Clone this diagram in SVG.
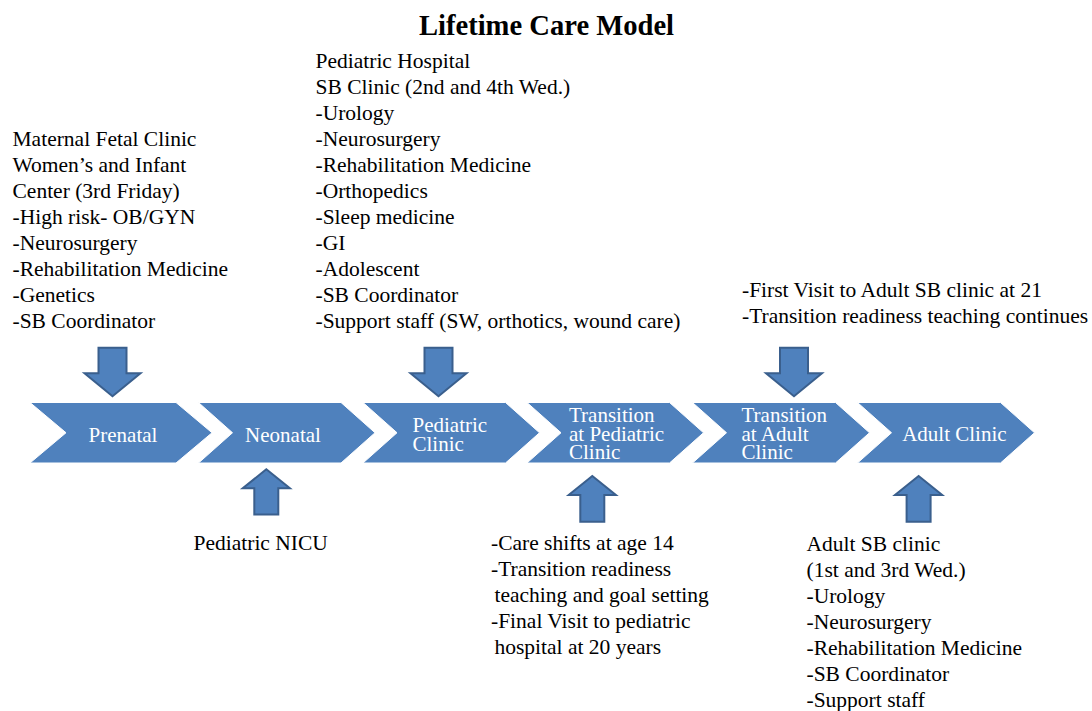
<svg xmlns="http://www.w3.org/2000/svg" width="1092" height="711" viewBox="0 0 1092 711">
  <style>
    .bg { fill: #ffffff; }
    text { font-family: "Liberation Serif", "DejaVu Serif", serif; }
    .title { font-size: 28.6px; font-weight: bold; fill: #000000; }
    .list { font-size: 21.5px; fill: #000000; }
    .stage { fill: #4F81BD; stroke: #ffffff; stroke-width: 1; }
    .stage-label { font-size: 21px; fill: #ffffff; }
    .arrow { fill: #4F81BD; stroke: #3A5F8D; stroke-width: 2; stroke-linejoin: miter; }
  </style>

  <rect class="bg" x="0" y="0" width="1092" height="711"/>

  <text class="title" x="546.5" y="34.5" text-anchor="middle">Lifetime Care Model</text>

  <!-- Timeline stages -->
  <g id="stage-prenatal">
    <polygon class="stage" points="30,402.5 176,402.5 212,432.75 176,463 30,463 66,432.75"/>
    <text class="stage-label" x="123" y="441.7" text-anchor="middle">Prenatal</text>
  </g>
  <g id="stage-neonatal">
    <polygon class="stage" points="198.5,402.5 341,402.5 375,432.75 341,463 198.5,463 232.5,432.75"/>
    <text class="stage-label" x="283" y="441.7" text-anchor="middle">Neonatal</text>
  </g>
  <g id="stage-pediatric-clinic">
    <polygon class="stage" points="363,402.5 505.5,402.5 539.5,432.75 505.5,463 363,463 397,432.75"/>
    <text class="stage-label" x="412.5" y="431.5">Pediatric</text>
    <text class="stage-label" x="412.5" y="450.5">Clinic</text>
  </g>
  <g id="stage-transition-pediatric">
    <polygon class="stage" points="527,402.5 669.5,402.5 703.5,432.75 669.5,463 527,463 561,432.75"/>
    <text class="stage-label" x="569" y="421.7">Transition</text>
    <text class="stage-label" x="569" y="440.5">at Pediatric</text>
    <text class="stage-label" x="569" y="459.3">Clinic</text>
  </g>
  <g id="stage-transition-adult">
    <polygon class="stage" points="692.5,402.5 835.5,402.5 869.5,432.75 835.5,463 692.5,463 726.5,432.75"/>
    <text class="stage-label" x="741.5" y="421.7">Transition</text>
    <text class="stage-label" x="741.5" y="440.5">at Adult</text>
    <text class="stage-label" x="741.5" y="459.3">Clinic</text>
  </g>
  <g id="stage-adult-clinic">
    <polygon class="stage" points="857.5,402.5 1000.5,402.5 1034.5,432.75 1000.5,463 857.5,463 891.5,432.75"/>
    <text class="stage-label" x="954.4" y="440.7" text-anchor="middle">Adult Clinic</text>
  </g>

  <!-- Block arrows linking the notes to the stages -->
  <g id="connectors">
    <path class="arrow" d="M98.5,347.7 H126.5 V373.3 H140.5 L112.5,396.3 L84.5,373.3 H98.5 Z"/>
    <path class="arrow" d="M424.5,347.7 H452.5 V373.3 H466.5 L438.5,396.3 L410.5,373.3 H424.5 Z"/>
    <path class="arrow" d="M780,347.7 H808 V373.3 H822 L794,396.3 L766,373.3 H780 Z"/>
    <path class="arrow" d="M254.3,514.5 V488.3 H242.7 L266.3,469.3 L289.9,488.3 H278.3 V514.5 Z"/>
    <path class="arrow" d="M580.3,521.7 V495 H568.7 L592.3,476 L615.9,495 H604.3 V521.7 Z"/>
    <path class="arrow" d="M906.6,521.7 V495 H895 L918.6,476 L942.2,495 H930.6 V521.7 Z"/>
  </g>

  <!-- Notes -->
  <g id="note-maternal-fetal">
    <text class="list" x="12.5" y="145.5">Maternal Fetal Clinic</text>
    <text class="list" x="12.5" y="171.5">Women’s and Infant</text>
    <text class="list" x="12.5" y="197.5">Center (3rd Friday)</text>
    <text class="list" x="12.5" y="223.5">-High risk- OB/GYN</text>
    <text class="list" x="12.5" y="249.5">-Neurosurgery</text>
    <text class="list" x="12.5" y="275.5">-Rehabilitation Medicine</text>
    <text class="list" x="12.5" y="301.5">-Genetics</text>
    <text class="list" x="12.5" y="327.5">-SB Coordinator</text>
  </g>

  <g id="note-pediatric-hospital">
    <text class="list" x="315.5" y="67.5">Pediatric Hospital</text>
    <text class="list" x="315.5" y="93.5">SB Clinic (2nd and 4th Wed.)</text>
    <text class="list" x="315.5" y="119.5">-Urology</text>
    <text class="list" x="315.5" y="145.5">-Neurosurgery</text>
    <text class="list" x="315.5" y="171.5">-Rehabilitation Medicine</text>
    <text class="list" x="315.5" y="197.5">-Orthopedics</text>
    <text class="list" x="315.5" y="223.5">-Sleep medicine</text>
    <text class="list" x="315.5" y="249.5">-GI</text>
    <text class="list" x="315.5" y="275.5">-Adolescent</text>
    <text class="list" x="315.5" y="301.5">-SB Coordinator</text>
    <text class="list" x="315.5" y="327.5">-Support staff (SW, orthotics, wound care)</text>
  </g>

  <g id="note-first-adult-visit">
    <text class="list" x="742" y="296.5">-First Visit to Adult SB clinic at 21</text>
    <text class="list" x="742" y="322.5">-Transition readiness teaching continues</text>
  </g>

  <g id="note-nicu">
    <text class="list" x="193.5" y="549.5">Pediatric NICU</text>
  </g>

  <g id="note-care-shift">
    <text class="list" x="491" y="549.5">-Care shifts at age 14</text>
    <text class="list" x="491" y="575.5">-Transition readiness</text>
    <text class="list" x="494.5" y="601.5">teaching and goal setting</text>
    <text class="list" x="491" y="627.5">-Final Visit to pediatric</text>
    <text class="list" x="494.5" y="653.5">hospital at 20 years</text>
  </g>

  <g id="note-adult-clinic">
    <text class="list" x="806.5" y="550.5">Adult SB clinic</text>
    <text class="list" x="806.5" y="576.5">(1st and 3rd Wed.)</text>
    <text class="list" x="806.5" y="602.5">-Urology</text>
    <text class="list" x="806.5" y="628.5">-Neurosurgery</text>
    <text class="list" x="806.5" y="654.5">-Rehabilitation Medicine</text>
    <text class="list" x="806.5" y="680.5">-SB Coordinator</text>
    <text class="list" x="806.5" y="706.5">-Support staff</text>
  </g>
</svg>
